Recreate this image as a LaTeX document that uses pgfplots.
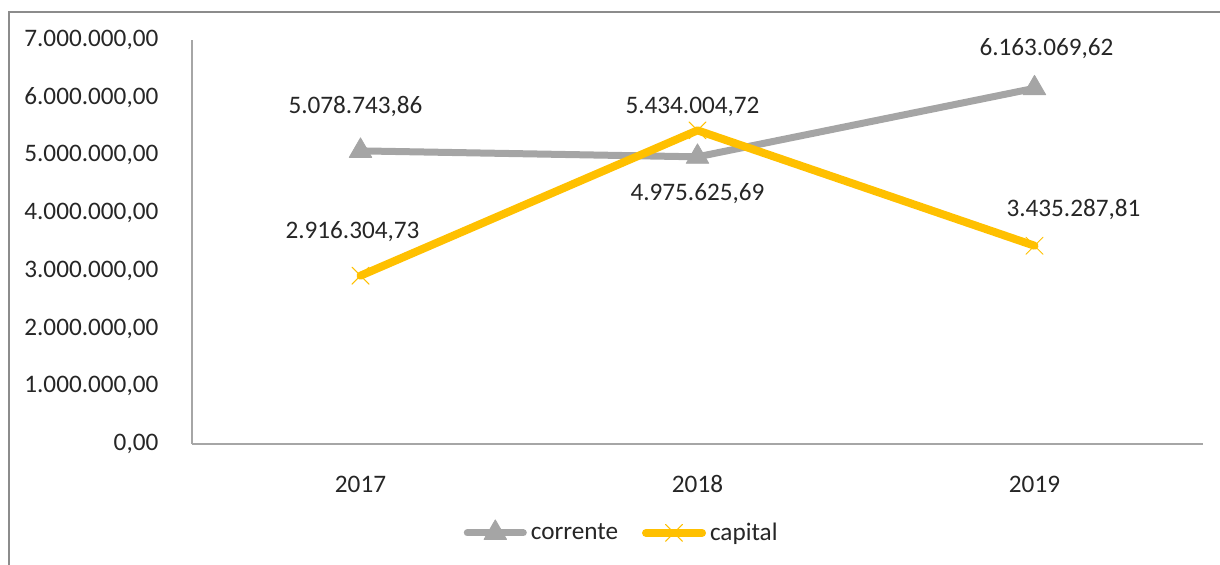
\documentclass[border=0pt]{standalone}
\usepackage{fontspec}
\setmainfont{Carlito}
\usepackage{pgfplots}
\usepackage{pgfplotstable}
\pgfplotsset{compat=1.18}

\definecolor{corr}{HTML}{A5A5A5}
\definecolor{capi}{HTML}{FFC000}
\definecolor{axln}{HTML}{A6A6A6}
\definecolor{frm}{HTML}{8C8C8C}
\definecolor{txt}{HTML}{262626}

% x  value  label  dx(pt)  dy(pt)
\pgfplotstableread{
x y lab dx dy
0 5078743.86 5.078.743,86 -2.5 22
1 4975625.69 4.975.625,69 0 -18.5
2 6163069.62 6.163.069,62 6 20
}\corrente
\pgfplotstableread{
x y lab dx dy
0 2916304.73 2.916.304,73 -4 22
1 5434004.72 5.434.004,72 -2.5 11.7
2 3435287.81 3.435.287,81 19.5 18
}\capital

\begin{document}
\begin{tikzpicture}
\useasboundingbox (0,0) rectangle (610pt,282.5pt);
\draw[frm, line width=0.6pt] (4.5pt,0) -- (4.5pt,276.5pt) -- (610pt,276.5pt);
\begin{axis}[
  at={(96pt,60.5pt)}, anchor=south west,
  scale only axis,
  width=505.5pt, height=202pt,
  xmin=-0.5, xmax=2.5,
  ymin=0, ymax=7000000,
  axis x line=bottom, axis y line=left,
  axis line style={axln, line width=0.7pt, -},
  tick style={draw=none},
  xtick={0,1,2},
  xticklabels={2017,2018,2019},
  ytick={0,1000000,2000000,3000000,4000000,5000000,6000000,7000000},
  yticklabels={{0,00},{1.000.000,00},{2.000.000,00},{3.000.000,00},{4.000.000,00},{5.000.000,00},{6.000.000,00},{7.000.000,00}},
  scaled y ticks=false,
  /pgf/number format/assume math mode=true,
  tick label style={font=\fontsize{12.6}{15}\selectfont, text=txt},
  yticklabel style={anchor=east, inner sep=0pt, xshift=-14.5pt},
  xticklabel style={anchor=center, inner sep=0pt, yshift=-18pt},
  clip=false,
  legend style={at={(0.426,-0.22)}, anchor=center, legend columns=2, draw=none,
    font=\fontsize{12.6}{15}\selectfont, text=txt,
    /tikz/every even column/.append style={column sep=10pt}},
  legend image code/.code={\draw[mark repeat=2,mark phase=2,#1] plot coordinates {(0pt,0pt) (14pt,0pt) (28pt,0pt)};},
  every node near coord/.append style={font=\fontsize{12.6}{15}\selectfont, text=txt, anchor=center, xshift=\dx pt, yshift=\dy pt},
]
\addplot[corr, line width=3.5pt, line cap=round, line join=round,
  mark=triangle*, mark size=6.5pt, mark options={fill=corr, draw=corr, line width=0.4pt}]
  table[x=x, y=y] {\corrente};
\addlegendentry{corrente}
\addplot[capi, line width=4pt, line cap=round, line join=round,
  mark=x, mark size=6pt, mark options={draw=capi, line width=0.5pt}]
  table[x=x, y=y] {\capital};
\addlegendentry{capital}
\addplot[draw=none, forget plot, nodes near coords, point meta=explicit symbolic,
  visualization depends on={\thisrow{dx}\as\dx},
  visualization depends on={\thisrow{dy}\as\dy}]
  table[x=x, y=y, meta=lab] {\corrente};
\addplot[draw=none, forget plot, nodes near coords, point meta=explicit symbolic,
  visualization depends on={\thisrow{dx}\as\dx},
  visualization depends on={\thisrow{dy}\as\dy}]
  table[x=x, y=y, meta=lab] {\capital};
\end{axis}
\end{tikzpicture}
\end{document}
